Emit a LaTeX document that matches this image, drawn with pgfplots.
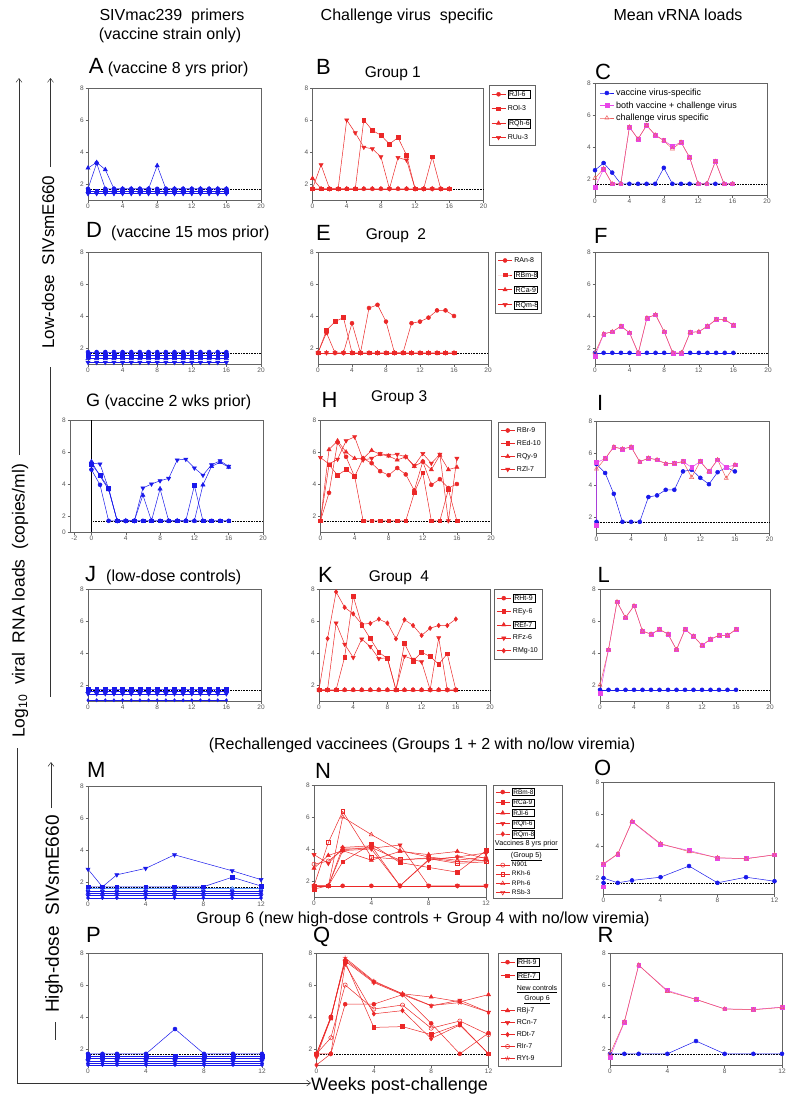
\documentclass[border=0pt]{standalone}
\usepackage{fontspec}
\setmainfont{Liberation Sans}
\usepackage{pgfplots}
\usepackage{pgfplotstable}
\pgfplotsset{compat=1.18}
\usetikzlibrary{arrows.meta}

\definecolor{vblue}{RGB}{25,25,235}
\definecolor{lblue}{RGB}{90,150,255}
\definecolor{cred}{RGB}{235,40,40}
\definecolor{mag}{RGB}{232,70,232}
\definecolor{lred}{RGB}{238,95,95}
\definecolor{axgray}{RGB}{100,100,100}
\definecolor{tkgray}{RGB}{85,85,85}

\setlength{\fboxsep}{1pt}
\setlength{\fboxrule}{0.4pt}
\newcommand{\fs}[1]{\fontsize{#1}{#1}\selectfont}
\newcommand{\bx}[1]{\fbox{\makebox[20bp][l]{#1}}}

\pgfplotsset{
  common/.style={scale only axis, anchor=north west, height=112bp,
    xmin=0, xmax=20, ymin=1, ymax=8, xtick={0,4,...,20}, ytick={2,4,6,8},
    axis line style={draw=axgray, line width=0.6pt},
    tick style={draw=axgray, line width=0.5pt}, major tick length=2.5bp,
    tick align=outside, tick pos=left,
    ticklabel style={font=\fs{6.5bp}, text=tkgray},
    xticklabel style={inner sep=1bp}, yticklabel style={inner sep=1.5bp},
    clip=false, /pgf/number format/assume math mode=true,
    legend image code/.code={\draw[mark repeat=2,mark phase=2] plot coordinates {(0bp,0bp)(7bp,0bp)(14bp,0bp)};}},
  panel/.style n args={3}{common, at={(#1bp,-#2bp)}, width=#3bp},
  w12/.style={xmax=12, xtick={0,4,8,12}},
  leg/.style={legend style={at={(1,1)}, anchor=north west, xshift=#1, draw=axgray, line width=0.6pt, fill=white, font=\fs{7bp}, inner xsep=2.5bp, inner ysep=3bp, row sep=3.2bp, cells={anchor=west}}},
  bS/.style={vblue, line width=0.5pt, mark size=2pt, mark options={solid, fill=vblue}},
  rS/.style={cred, line width=0.5pt, mark size=2pt, mark options={solid, fill=cred}},
  oS/.style={cred, line width=0.5pt, mark size=2.1pt, mark options={solid, fill=white}},
  mS/.style={mag, line width=0.5pt, mark=square*, mark size=1.9pt, mark options={solid, fill=mag}},
  tS/.style={lred, line width=0.5pt, mark=triangle, mark size=2.4pt, mark options={solid, fill=white}},
  sq/.style={mark=square*, mark size=1.9pt},
  tri/.style={mark=triangle*, mark size=2.4pt},
  dn/.style={mark=triangle*, mark size=2.4pt, every mark/.append style={rotate=180}},
  dno/.style={mark=triangle, mark size=2.4pt, every mark/.append style={rotate=180}},
  dia/.style={mark=diamond*, mark size=2.3pt},
  lod/.style={black, densely dotted, line width=0.6pt, forget plot},
}

% constant rows of values below detection, weekly 0..16
\pgfplotstableread{
w k175 k170 k160 k155 k145 k140 k135 k110 k105
0 1.75 1.7 1.6 1.55 1.45 1.4 1.35 1.1 1.05
1 1.75 1.7 1.6 1.55 1.45 1.4 1.35 1.1 1.05
2 1.75 1.7 1.6 1.55 1.45 1.4 1.35 1.1 1.05
3 1.75 1.7 1.6 1.55 1.45 1.4 1.35 1.1 1.05
4 1.75 1.7 1.6 1.55 1.45 1.4 1.35 1.1 1.05
5 1.75 1.7 1.6 1.55 1.45 1.4 1.35 1.1 1.05
6 1.75 1.7 1.6 1.55 1.45 1.4 1.35 1.1 1.05
7 1.75 1.7 1.6 1.55 1.45 1.4 1.35 1.1 1.05
8 1.75 1.7 1.6 1.55 1.45 1.4 1.35 1.1 1.05
9 1.75 1.7 1.6 1.55 1.45 1.4 1.35 1.1 1.05
10 1.75 1.7 1.6 1.55 1.45 1.4 1.35 1.1 1.05
11 1.75 1.7 1.6 1.55 1.45 1.4 1.35 1.1 1.05
12 1.75 1.7 1.6 1.55 1.45 1.4 1.35 1.1 1.05
13 1.75 1.7 1.6 1.55 1.45 1.4 1.35 1.1 1.05
14 1.75 1.7 1.6 1.55 1.45 1.4 1.35 1.1 1.05
15 1.75 1.7 1.6 1.55 1.45 1.4 1.35 1.1 1.05
16 1.75 1.7 1.6 1.55 1.45 1.4 1.35 1.1 1.05
}\tBase
% same for the 0..12 week panels
\pgfplotstableread{
w k170 k160 k155 k145 k140 k130 k125 k115 k110 k100
0 1.7 1.6 1.55 1.45 1.4 1.3 1.25 1.15 1.1 1.0
1 1.7 1.6 1.55 1.45 1.4 1.3 1.25 1.15 1.1 1.0
2 1.7 1.6 1.55 1.45 1.4 1.3 1.25 1.15 1.1 1.0
4 1.7 1.6 1.55 1.45 1.4 1.3 1.25 1.15 1.1 1.0
6 1.7 1.6 1.55 1.45 1.4 1.3 1.25 1.15 1.1 1.0
8 1.7 1.6 1.55 1.45 1.4 1.3 1.25 1.15 1.1 1.0
10 1.7 1.6 1.55 1.45 1.4 1.3 1.25 1.15 1.1 1.0
12 1.7 1.6 1.55 1.45 1.4 1.3 1.25 1.15 1.1 1.0
}\tBaseW

\pgfplotstableread{
w a1 a2
0 3.0 1.7
1 3.35 3.3
2 2.9 1.7
3 1.7 1.7
4 1.7 1.7
5 1.7 1.7
6 1.7 1.7
7 1.7 1.7
8 3.15 1.7
9 1.7 1.7
10 1.7 1.7
11 1.7 1.7
12 1.7 1.7
13 1.7 1.7
14 1.7 1.7
15 1.7 1.7
16 1.7 1.7
}\tA

\pgfplotstableread{
w jl ol qh uu
0 1.7 1.7 2.35 1.7
1 1.7 1.7 1.7 3.2
2 1.7 1.7 1.7 1.7
3 1.7 1.7 1.7 1.7
4 1.7 1.7 1.7 6.0
5 1.7 1.7 1.7 5.2
6 1.7 6.0 1.7 4.3
7 1.7 5.35 1.7 4.2
8 1.7 5.05 1.7 3.7
9 1.7 4.5 1.7 1.7
10 1.7 4.9 1.7 3.65
11 1.7 3.8 1.7 3.5
12 1.7 1.7 1.7 1.7
13 1.7 1.7 1.7 1.7
14 1.7 3.7 1.7 1.7
15 1.7 1.7 1.7 1.7
16 1.7 1.7 1.7 1.7
}\tB

\pgfplotstableread{
w bl mg rd
0 2.55 1.48 2.05
1 3.0 2.62 2.65
2 2.4 1.7 1.7
3 1.7 1.7 1.7
4 1.7 5.25 5.25
5 1.7 4.5 4.5
6 1.7 5.35 5.35
7 1.7 4.75 4.75
8 2.7 4.4 4.4
9 1.7 4.05 3.88
10 1.7 4.3 4.3
11 1.7 3.35 3.35
12 1.7 1.7 1.7
13 1.7 1.7 1.7
14 1.7 3.1 3.1
15 1.7 1.7 1.7
16 1.7 1.7 1.7
}\tC

\pgfplotstableread{
w an bm ca qm
0 1.7 1.7 1.7 1.7
1 2.95 3.1 1.7 1.7
2 1.7 3.65 1.7 1.7
3 1.7 3.9 1.7 1.7
4 3.55 1.7 1.7 1.7
5 1.7 1.7 1.7 1.7
6 4.5 1.7 1.7 1.7
7 4.7 1.7 1.7 1.7
8 3.65 1.7 1.7 1.7
9 1.7 1.7 1.7 1.7
10 1.7 1.7 1.7 1.7
11 3.55 1.7 1.7 1.7
12 3.65 1.7 1.7 1.7
13 3.9 1.7 1.7 1.7
14 4.35 1.7 1.7 1.7
15 4.35 1.7 1.7 1.7
16 4.0 1.7 1.7 1.7
}\tE

\pgfplotstableread{
w bl mg rd
0 1.7 1.5 1.7
1 1.7 2.88 2.88
2 1.7 3.02 3.02
3 1.7 3.36 3.36
4 1.7 2.95 2.95
5 1.7 1.65 1.7
6 1.7 3.88 3.88
7 1.7 4.08 4.08
8 1.7 3.02 3.02
9 1.7 1.65 1.7
10 1.7 1.65 1.7
11 1.7 2.98 2.98
12 1.7 3.02 3.02
13 1.7 3.36 3.36
14 1.7 3.78 3.78
15 1.7 3.78 3.78
16 1.7 3.42 3.42
}\tF

\pgfplotstableread{
w g1 g2 g3 g4
0 5.3 5.4 5.25 4.9
1 5.25 4.5 4.55 3.95
2 3.7 3.65 3.75 1.7
3 1.7 1.7 1.7 1.7
4 1.7 1.7 1.7 1.7
5 1.7 1.7 1.7 1.7
6 3.75 3.3 1.7 1.7
7 4.0 1.7 1.7 1.7
8 4.2 3.7 1.7 1.7
9 4.35 1.7 1.7 1.7
10 5.5 1.7 1.7 1.7
11 5.55 1.7 1.7 1.7
12 5.0 1.7 3.9 1.7
13 4.55 3.95 1.7 1.7
14 5.2 5.1 1.7 1.7
15 5.45 5.35 1.7 1.7
16 5.1 5.05 1.7 1.7
}\tG

\pgfplotstableread{
w br ed qy zl
0 1.7 1.7 1.7 5.65
1 3.45 5.2 6.15 5.25
2 6.6 4.55 6.7 5.55
3 5.7 4.9 6.0 6.7
4 4.45 4.5 5.6 6.95
5 5.6 1.7 5.6 5.5
6 5.3 1.7 6.1 5.6
7 4.8 1.7 5.85 5.9
8 4.55 1.7 5.75 5.8
9 5.0 1.7 5.5 5.85
10 4.6 1.7 5.7 5.7
11 3.6 3.45 5.1 5.15
12 5.4 4.7 5.4 5.9
13 3.95 1.7 4.9 5.3
14 4.3 1.7 5.8 5.85
15 3.75 3.65 4.9 1.7
16 4.0 1.7 5.05 5.6
}\tH

\pgfplotstableread{
w ht ey ef fz mg
0 1.7 1.7 1.7 1.7 1.7
1 1.7 1.7 1.7 1.7 4.9
2 1.7 1.7 1.7 5.87 7.82
3 1.7 3.75 1.7 4.55 6.85
4 1.7 7.55 1.7 3.72 6.45
5 1.7 5.75 1.7 4.87 5.8
6 1.7 4.9 1.7 4.4 5.85
7 1.7 4.05 1.7 3.65 6.12
8 1.7 3.65 1.7 3.7 5.87
9 1.7 1.7 1.7 1.7 4.89
10 1.7 4.6 1.7 3.8 6.08
11 1.7 3.5 1.7 3.6 5.72
12 1.7 4.05 1.7 3.45 5.1
13 1.7 3.78 1.7 1.7 5.55
14 1.7 3.3 1.7 4.95 5.72
15 1.7 3.95 1.7 1.7 5.72
16 1.7 1.7 1.7 1.7 6.12
}\tK

\pgfplotstableread{
w bm ca jl qh qm nn kh ph sb
0 1.7 1.5 2.8 3.65 1.7 3.05 1.7 1.7 1.7
1 1.7 1.7 3.6 3.1 1.7 3.25 4.4 1.7 1.7
2 1.7 3.2 3.9 4.05 4.1 3.95 6.35 6.0 3.9
4 1.7 4.3 3.3 4.05 4.2 4.1 3.5 4.9 4.0
6 1.7 3.15 3.85 4.25 1.7 3.3 3.35 3.9 1.7
8 1.7 2.85 3.65 1.7 3.35 3.45 3.4 3.5 3.3
10 1.7 2.55 3.85 1.7 3.5 3.2 3.1 3.3 3.5
12 1.7 3.9 3.4 1.7 3.75 3.3 3.2 3.5 3.25
}\tN

\pgfplotstableread{
w ht ef bj cn dt ir yt
0 1.7 1.7 1.7 1.5 1.0 1.7 1.7
1 1.7 4.0 4.0 3.95 1.7 2.7 3.9
2 4.8 7.45 7.6 7.5 7.3 6.0 7.7
4 4.8 3.35 6.2 6.15 4.2 4.5 6.25
6 5.4 3.4 5.45 5.4 4.4 4.75 5.45
8 3.6 2.9 5.25 4.7 2.65 3.3 4.72
10 1.7 3.55 4.95 5.05 3.5 3.75 4.9
12 3.0 1.7 5.4 4.3 1.7 2.9 4.3
}\tQ

\begin{document}
\begin{tikzpicture}
\path[use as bounding box] (0,0) rectangle (792bp,-1102bp);

% ---------- headers and titles ----------
\node[anchor=base, font=\fs{16bp}] at (172bp,-20.5bp) {SIVmac239\ \ primers};
\node[anchor=base, font=\fs{16bp}] at (170bp,-39bp) {(vaccine strain only)};
\node[anchor=base, font=\fs{16bp}] at (407bp,-20.5bp) {Challenge virus\ \ specific};
\node[anchor=base, font=\fs{16bp}] at (678bp,-20.5bp) {Mean vRNA loads};

\node[anchor=base west, inner sep=0] at (88.6bp,-73bp) {\fs{22bp}A\fs{16bp} (vaccine 8 yrs prior)};
\node[anchor=base west, inner sep=0, font=\fs{22bp}] at (316bp,-74bp) {B};
\node[anchor=base west, inner sep=0, font=\fs{15.5bp}] at (364.6bp,-77bp) {Group 1};
\node[anchor=base west, inner sep=0, font=\fs{22bp}] at (595bp,-79bp) {C};

\node[anchor=base west, inner sep=0, font=\fs{22bp}] at (86bp,-237bp) {D};
\node[anchor=base west, inner sep=0, font=\fs{16bp}] at (111bp,-237bp) {(vaccine 15 mos prior)};
\node[anchor=base west, inner sep=0, font=\fs{22bp}] at (316bp,-240bp) {E};
\node[anchor=base west, inner sep=0, font=\fs{15.5bp}] at (365.6bp,-239bp) {Group\ \ 2};
\node[anchor=base west, inner sep=0, font=\fs{22bp}] at (594bp,-243bp) {F};

\node[anchor=base west, inner sep=0] at (86bp,-406bp) {\fs{18bp}G\fs{16bp} (vaccine 2 wks prior)};
\node[anchor=base west, inner sep=0, font=\fs{22bp}] at (321.5bp,-407bp) {H};
\node[anchor=base west, inner sep=0, font=\fs{15.5bp}] at (371bp,-401bp) {Group 3};
\node[anchor=base west, inner sep=0, font=\fs{22bp}] at (597bp,-410bp) {I};

\node[anchor=base west, inner sep=0, font=\fs{22bp}] at (85bp,-581bp) {J};
\node[anchor=base west, inner sep=0, font=\fs{16bp}] at (106bp,-581bp) {(low-dose controls)};
\node[anchor=base west, inner sep=0, font=\fs{22bp}] at (318bp,-582bp) {K};
\node[anchor=base west, inner sep=0, font=\fs{15.5bp}] at (368.6bp,-581bp) {Group\ \ 4};
\node[anchor=base west, inner sep=0, font=\fs{22bp}] at (597.5bp,-582bp) {L};

\node[anchor=base, font=\fs{16bp}] at (422bp,-749bp) {(Rechallenged vaccinees (Groups 1 + 2 with no/low viremia)};
\node[anchor=base west, inner sep=0, font=\fs{22bp}] at (87bp,-777bp) {M};
\node[anchor=base west, inner sep=0, font=\fs{22bp}] at (315bp,-778bp) {N};
\node[anchor=base west, inner sep=0, font=\fs{22bp}] at (594bp,-775bp) {O};

\node[anchor=base, font=\fs{16bp}] at (423bp,-923bp) {Group 6 (new high-dose controls + Group 4 with no/low viremia)};
\node[anchor=base west, inner sep=0, font=\fs{22bp}] at (86bp,-942bp) {P};
\node[anchor=base west, inner sep=0, font=\fs{22bp}] at (313bp,-942bp) {Q};
\node[anchor=base west, inner sep=0, font=\fs{22bp}] at (597.5bp,-942bp) {R};

\node[anchor=base west, inner sep=0, font=\fs{18bp}] at (311bp,-1090bp) {Weeks post-challenge};

% ---------- left side labels and arrows ----------
\node[rotate=90, font=\fs{17.5bp}] at (20bp,-601bp) {Log\textsubscript{10}\ \ viral\ \ RNA loads\ \ (copies/ml)};
\node[rotate=90, font=\fs{17bp}] at (48bp,-262bp) {Low-dose\ \ SIVsmE660};
\node[rotate=90, font=\fs{19bp}] at (54bp,-914bp) {High-dose\ \ SIVsmE660};
\draw[black!80, line width=0.5pt, -{Straight Barb[length=4bp,width=6bp]}] (19bp,-455bp) -- (19bp,-78bp);
\draw[black!80, line width=0.5pt, -{Straight Barb[length=4bp,width=6bp]}] (17bp,-748bp) -- (17bp,-1083bp) -- (311bp,-1083bp);
\draw[black!80, line width=0.5pt, -{Straight Barb[length=4bp,width=6bp]}] (50.5bp,-167bp) -- (50.5bp,-78bp);
\draw[black!80, line width=0.5pt] (50.5bp,-367bp) -- (50.5bp,-697bp);
\draw[black!80, line width=0.5pt, -{Straight Barb[length=4bp,width=6bp]}] (51bp,-808bp) -- (51bp,-762bp);
\draw[black!80, line width=0.5pt] (55bp,-1022bp) -- (55bp,-1040bp);

% ================= row 1 =================
\begin{axis}[panel={88}{88}{173}]
\addplot[lod] coordinates {(0,1.7) (20,1.7)};
\addplot[bS, sq] table[x=w, y=k155]{\tBase};
\addplot[bS, dn] table[x=w, y=k140]{\tBase};
\addplot[bS, mark=*] table[x=w, y=a2]{\tA};
\addplot[bS, tri] table[x=w, y=a1]{\tA};
\end{axis}

\begin{axis}[panel={312.5}{88}{171}, leg=5bp, legend style={yshift=3bp}]
\addplot[lod] coordinates {(0,1.7) (20,1.7)};
\addplot[rS, mark=*] table[x=w, y=jl]{\tB}; \addlegendentry{\bx{RJl-6}}
\addplot[rS, sq] table[x=w, y=ol]{\tB}; \addlegendentry{ROl-3}
\addplot[rS, tri] table[x=w, y=qh]{\tB}; \addlegendentry{\bx{RQh-6}}
\addplot[rS, dn] table[x=w, y=uu]{\tB}; \addlegendentry{RUu-3}
\end{axis}

\begin{axis}[panel={595}{83}{172},
  legend style={at={(0.02,0.975)}, anchor=north west, draw=none, fill=none, font=\fs{9bp}, row sep=0.5bp, inner sep=1bp, cells={anchor=west}}]
\addplot[lod] coordinates {(0,1.7) (20,1.7)};
\addplot[bS, mark=*] table[x=w, y=bl]{\tC}; \addlegendentry{vaccine virus-specific}
\addplot[mS] table[x=w, y=mg]{\tC}; \addlegendentry{both vaccine + challenge virus}
\addplot[tS] table[x=w, y=rd]{\tC}; \addlegendentry{challenge virus specific}
\end{axis}

% ================= row 2 =================
\begin{axis}[panel={88}{252}{173}]
\addplot[lod] coordinates {(0,1.7) (20,1.7)};
\addplot[bS, mark=*] table[x=w, y=k175]{\tBase};
\addplot[bS, sq] table[x=w, y=k155]{\tBase};
\addplot[bS, tri] table[x=w, y=k135]{\tBase};
\addplot[bS, dn] table[x=w, y=k110]{\tBase};
\end{axis}

\begin{axis}[panel={318}{252}{170}, leg=7bp]
\addplot[lod] coordinates {(0,1.7) (20,1.7)};
\addplot[rS, mark=*] table[x=w, y=an]{\tE}; \addlegendentry{RAn-8}
\addplot[rS, sq] table[x=w, y=bm]{\tE}; \addlegendentry{\bx{RBm-8}}
\addplot[rS, tri] table[x=w, y=ca]{\tE}; \addlegendentry{\bx{RCa-9}}
\addplot[rS, dn] table[x=w, y=qm]{\tE}; \addlegendentry{\bx{RQm-8}}
\end{axis}

\begin{axis}[panel={595}{252}{173}]
\addplot[lod] coordinates {(0,1.7) (20,1.7)};
\addplot[bS, mark=*] table[x=w, y=bl]{\tF};
\addplot[mS] table[x=w, y=mg]{\tF};
\addplot[tS] table[x=w, y=rd]{\tF};
\end{axis}

% ================= row 3 =================
\begin{axis}[panel={70}{420}{193}, xmin=-2.5, xtick={-2,0,4,8,12,16,20},
  ytick={1,2,4,6,8}, yticklabels={0,2,4,6,8}]
\addplot[black, line width=0.6pt, forget plot] coordinates {(0,1) (0,8)};
\addplot[lod] coordinates {(0,1.7) (20,1.7)};
\addplot[bS, mark=*] table[x=w, y=g4]{\tG};
\addplot[bS, sq] table[x=w, y=g3]{\tG};
\addplot[bS, tri] table[x=w, y=g2]{\tG};
\addplot[bS, dn] table[x=w, y=g1]{\tG};
\end{axis}

\begin{axis}[panel={320.5}{420}{170.5}, leg=6.7bp, legend style={yshift=-2bp, row sep=2.5bp}]
\addplot[lod] coordinates {(0,1.7) (20,1.7)};
\addplot[rS, mark=*] table[x=w, y=br]{\tH}; \addlegendentry{RBr-9}
\addplot[rS, sq] table[x=w, y=ed]{\tH}; \addlegendentry{REd-10}
\addplot[rS, tri] table[x=w, y=qy]{\tH}; \addlegendentry{RQy-9}
\addplot[rS, dn] table[x=w, y=zl]{\tH}; \addlegendentry{RZl-7}
\end{axis}

\begin{axis}[panel={596.5}{421}{173}]
\addplot[lod] coordinates {(0,1.7) (20,1.7)};
\addplot[bS, mark=*] coordinates {(0,1.7) (0,5.3) (1,4.75) (2,3.45) (3,1.7) (4,1.7) (5,1.7) (6,3.25) (7,3.35) (8,3.7) (9,3.7) (10,4.85) (11,4.95) (12,4.45) (13,4.05) (14,4.8) (15,5.1) (16,4.85)};
\addplot[mS] coordinates {(0,1.5) (0,5.4) (1,5.65) (2,6.38) (3,6.25) (4,6.38) (5,5.45) (6,5.68) (7,5.58) (8,5.33) (9,5.35) (10,5.47) (11,5.1) (12,5.47) (13,4.84) (14,5.58) (15,5.1) (16,5.26)};
\addplot[tS] coordinates {(0,5.0) (1,5.65) (2,6.38) (3,6.25) (4,6.38) (5,5.45) (6,5.68) (7,5.58) (8,5.33) (9,5.35) (10,5.47) (11,4.48) (12,5.47) (13,4.84) (14,5.58) (15,4.42) (16,5.26)};
\end{axis}

% ================= row 4 =================
\begin{axis}[panel={88}{589}{173}]
\addplot[lod] coordinates {(0,1.7) (20,1.7)};
\addplot[bS, sq] table[x=w, y=k175]{\tBase};
\addplot[bS, tri] table[x=w, y=k160]{\tBase};
\addplot[bS, dn] table[x=w, y=k145]{\tBase};
\addplot[bS, mark=diamond*, mark size=1.6pt] table[x=w, y=k105]{\tBase};
\end{axis}

\begin{axis}[panel={319}{589}{171}, leg=3.7bp, legend style={row sep=2.2bp}]
\addplot[lod] coordinates {(0,1.7) (20,1.7)};
\addplot[rS, mark=*] table[x=w, y=ht]{\tK}; \addlegendentry{\bx{RHt-9}}
\addplot[rS, sq] table[x=w, y=ey]{\tK}; \addlegendentry{REy-6}
\addplot[rS, tri] table[x=w, y=ef]{\tK}; \addlegendentry{\bx{REf-7}}
\addplot[rS, dn] table[x=w, y=fz]{\tK}; \addlegendentry{RFz-6}
\addplot[rS, dia] table[x=w, y=mg]{\tK}; \addlegendentry{RMg-10}
\end{axis}

\begin{axis}[panel={600}{589}{170}]
\addplot[lod] coordinates {(0,1.7) (20,1.7)};
\addplot[bS, mark=*] table[x=w, y=k170]{\tBase};
\addplot[mS] coordinates {(0,1.5) (1,4.21) (2,7.2) (3,6.21) (4,6.95) (5,5.37) (6,5.18) (7,5.47) (8,5.18) (9,4.21) (10,5.47) (11,5.05) (12,4.48) (13,4.86) (14,5.1) (15,5.1) (16,5.47)};
\addplot[tS] coordinates {(0,2.0) (1,4.21) (2,7.2) (3,6.21) (4,6.95) (5,5.37) (6,5.18) (7,5.47) (8,5.18) (9,4.21) (10,5.47) (11,5.05) (12,4.48) (13,4.86) (14,5.1) (15,5.1) (16,5.47)};
\end{axis}

% ================= row 5 =================
\begin{axis}[panel={88}{786}{173}, w12]
\addplot[lod] coordinates {(0,1.7) (12,1.7)};
\addplot[bS, mark=*, mark size=1.6pt] table[x=w, y=k100]{\tBaseW};
\addplot[bS, mark=*, mark size=1.6pt] table[x=w, y=k115]{\tBaseW};
\addplot[bS, tri] table[x=w, y=k130]{\tBaseW};
\addplot[bS, mark=*] table[x=w, y=k145]{\tBaseW};
\addplot[lblue, line width=0.5pt, mark=o, mark size=1.9pt, mark options={solid, fill=white}] table[x=w, y=k160]{\tBaseW};
\addplot[bS, sq] coordinates {(0,1.7) (1,1.7) (2,1.7) (4,1.7) (6,1.7) (8,1.7) (10,2.3) (12,1.75)};
\addplot[bS, dn] coordinates {(0,2.8) (1,1.7) (2,2.45) (4,2.85) (6,3.7) (10,2.7) (12,2.15)};
\end{axis}

\begin{axis}[panel={314}{785}{172}, w12, leg=6.7bp, legend style={row sep=-1bp, inner ysep=1bp, font=\fs{6.5bp}}]
\addplot[lod] coordinates {(0,1.7) (12,1.7)};
\addplot[rS, mark=*] table[x=w, y=bm]{\tN}; \addlegendentry{\bx{RBm-8}}
\addplot[rS, sq] table[x=w, y=ca]{\tN}; \addlegendentry{\bx{RCa-9}}
\addplot[rS, tri] table[x=w, y=jl]{\tN}; \addlegendentry{\bx{RJl-6}}
\addplot[rS, dn] table[x=w, y=qh]{\tN}; \addlegendentry{\bx{RQh-6}}
\addplot[rS, dia] table[x=w, y=qm]{\tN}; \addlegendentry{\bx{RQm-8}}
\addlegendimage{empty legend}
\addlegendentry{\hspace*{-17bp}\fs{7.2bp}\shortstack{\underline{Vaccines 8 yrs prior}\\\underline{(Group 5)}}}
\addplot[oS, mark=o] table[x=w, y=nn]{\tN}; \addlegendentry{N901}
\addplot[oS, mark=square, mark size=1.9pt] table[x=w, y=kh]{\tN}; \addlegendentry{RKh-6}
\addplot[oS, mark=triangle, mark size=2.4pt] table[x=w, y=ph]{\tN}; \addlegendentry{RPh-6}
\addplot[oS, dno] table[x=w, y=sb]{\tN}; \addlegendentry{RSb-3}
\end{axis}

\begin{axis}[panel={603.5}{782}{171}, w12]
\addplot[lod] coordinates {(0,1.7) (12,1.7)};
\addplot[bS, mark=*] coordinates {(0,1.7) (0,2.0) (1,1.7) (2,1.85) (4,2.05) (6,2.75) (8,1.7) (10,2.05) (12,1.8)};
\addplot[mS] coordinates {(0,1.45) (0,2.85) (1,3.5) (2,5.52) (4,4.1) (6,3.72) (8,3.25) (10,3.22) (12,3.45)};
\addplot[tS] coordinates {(0,2.9) (1,3.5) (2,5.55) (4,4.15) (6,3.65) (8,3.27) (10,3.2) (12,3.45)};
\end{axis}

% ================= row 6 =================
\begin{axis}[panel={88}{953}{174}, w12]
\addplot[lod] coordinates {(0,1.7) (12,1.7)};
\addplot[bS, mark=*, mark size=1.6pt] table[x=w, y=k100]{\tBaseW};
\addplot[bS, dia] table[x=w, y=k110]{\tBaseW};
\addplot[bS, dn] table[x=w, y=k125]{\tBaseW};
\addplot[bS, tri] table[x=w, y=k140]{\tBaseW};
\addplot[bS, sq] table[x=w, y=k155]{\tBaseW};
\addplot[bS, mark=*] coordinates {(0,1.7) (1,1.7) (2,1.7) (4,1.7) (6,3.25) (8,1.7) (10,1.7) (12,1.7)};
\end{axis}

\begin{axis}[panel={316.5}{953}{172}, w12, leg=9bp, legend style={row sep=1.6bp}]
\addplot[lod] coordinates {(0,1.7) (12,1.7)};
\addplot[rS, mark=*] table[x=w, y=ht]{\tQ}; \addlegendentry{\bx{RHt-9}}
\addplot[rS, sq] table[x=w, y=ef]{\tQ}; \addlegendentry{\bx{REf-7}}
\addlegendimage{empty legend}
\addlegendentry{\shortstack{\underline{New controls}\\\underline{Group 6}}}
\addplot[rS, tri] table[x=w, y=bj]{\tQ}; \addlegendentry{RBj-7}
\addplot[rS, dn] table[x=w, y=cn]{\tQ}; \addlegendentry{RCn-7}
\addplot[rS, dia] table[x=w, y=dt]{\tQ}; \addlegendentry{RDt-7}
\addplot[oS, mark=o] table[x=w, y=ir]{\tQ}; \addlegendentry{RIr-7}
\addplot[rS, mark=star, mark size=2.5pt] table[x=w, y=yt]{\tQ}; \addlegendentry{RYt-9}
\end{axis}

\begin{axis}[panel={610}{953}{172}, w12]
\addplot[lod] coordinates {(0,1.7) (12,1.7)};
\addplot[bS, mark=*] coordinates {(0,1.7) (1,1.7) (2,1.7) (4,1.7) (6,2.5) (8,1.7) (10,1.7) (12,1.7)};
\addplot[mS] coordinates {(0,1.5) (1,3.67) (2,7.23) (4,5.66) (6,5.1) (8,4.51) (10,4.47) (12,4.62)};
\addplot[tS] coordinates {(0,1.7) (1,3.7) (2,7.25) (4,5.6) (6,5.1) (8,4.5) (10,4.45) (12,4.6)};
\end{axis}

\end{tikzpicture}
\end{document}
